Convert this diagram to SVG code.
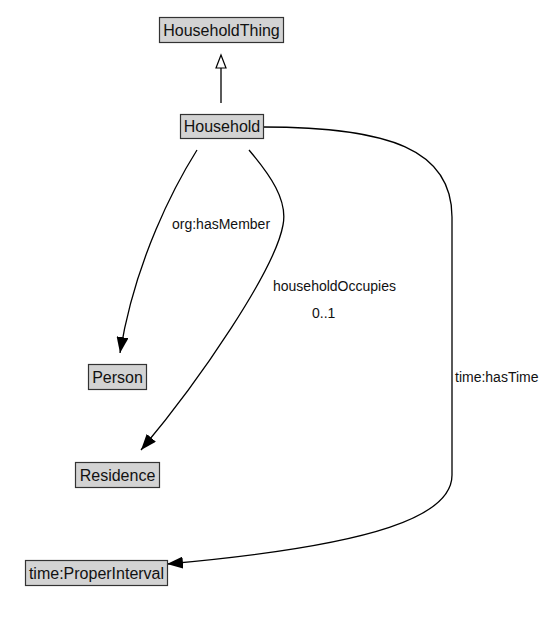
<svg xmlns="http://www.w3.org/2000/svg" width="553" height="623" viewBox="0 0 553 623">
<style>
.node rect{fill:#d3d3d3;stroke:#333;stroke-width:1.2}
.node text{font-family:"Liberation Sans",Arial,sans-serif;font-size:16px;fill:#111;text-anchor:middle}
.edge{fill:none;stroke:#000;stroke-width:1.3}
.lbl{font-family:"Liberation Sans",Arial,sans-serif;font-size:14px;fill:#111}
</style>
<defs>
<marker id="arr" markerWidth="16" markerHeight="12" refX="16" refY="6" orient="auto" markerUnits="userSpaceOnUse">
<path d="M0,0 L16,6 L0,12 Z" fill="#000"/>
</marker>
</defs>
<rect width="553" height="623" fill="#fff"/>
<g id="connectors">
<path class="edge" d="M221,103 L221,68"/>
<path d="M221,55 L226,68 L216,68 Z" fill="#fff" stroke="#000" stroke-width="1.2"/>
<path class="edge" d="M197,150 C175,185 135,260 120,353" marker-end="url(#arr)"/>
<path class="edge" d="M249,150 C270,175 288,200 283,225 C275,270 200,380 141,450" marker-end="url(#arr)"/>
<path class="edge" d="M263,127 C390,127 452,150 452,217 L452,475 C452,515 380,545 167,564" marker-end="url(#arr)"/>
<text class="lbl" x="172" y="229">org:hasMember</text>
<text class="lbl" x="273" y="291">householdOccupies</text>
<text class="lbl" x="312" y="318">0..1</text>
<text class="lbl" x="455" y="382">time:hasTime</text>
</g>
<g id="HouseholdThing" class="node"><rect x="159.5" y="17.5" width="124" height="25"/><text x="221.5" y="35.5">HouseholdThing</text></g>
<g id="Household" class="node"><rect x="180.5" y="114.5" width="83" height="24"/><text x="222" y="132">Household</text></g>
<g id="Person" class="node"><rect x="88.5" y="364.5" width="58" height="25"/><text x="117.5" y="382.5">Person</text></g>
<g id="Residence" class="node"><rect x="75.5" y="462.5" width="84" height="25"/><text x="117.5" y="480.5">Residence</text></g>
<g id="ProperInterval" class="node"><rect x="25.5" y="560.5" width="142" height="25"/><text x="96.5" y="578.5">time:ProperInterval</text></g>
</svg>
